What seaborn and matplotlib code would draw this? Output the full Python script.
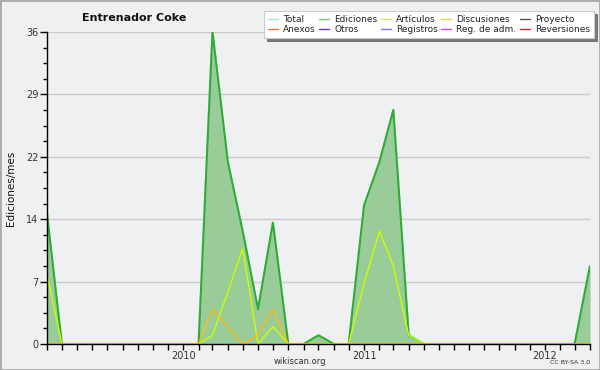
import numpy as np
import pandas as pd
import matplotlib
matplotlib.use("Agg")
import matplotlib.pyplot as plt
import matplotlib.dates as mdates
from matplotlib.lines import Line2D
from matplotlib.patches import Rectangle
import seaborn as sns

# ---- data ----
months = pd.date_range("2009-04-01", periods=37, freq="MS")
ediciones = [15, 0, 0, 0, 0, 0, 0, 0, 0, 0, 0, 36, 21, 13, 4, 14, 0, 0, 1, 0, 0,
             16, 21, 27, 1, 0, 0, 0, 0, 0, 0, 0, 0, 0, 0, 0, 9]
articulos = [8, 0, 0, 0, 0, 0, 0, 0, 0, 0, 0, 1, 6, 11, 0, 2, 0, 0, 0, 0, 0,
             7, 13, 9, 1, 0, 0, 0, 0, 0, 0, 0, 0, 0, 0, 0, 0]
discusiones = [0, 0, 0, 0, 0, 0, 0, 0, 0, 0, 0, 4, 2, 0, 1, 4, 0, 0, 0, 0, 0,
               0, 0, 0, 0, 0, 0, 0, 0, 0, 0, 0, 0, 0, 0, 0, 0]
legend_labels = ["Total", "Ediciones", "Artículos", "Discusiones", "Proyecto",
                 "Anexos", "Otros", "Registros", "Reg. de adm.", "Reversiones"]
legend_colors = ["#a8e2e2", "#77c877", "#ccee55", "#ffcc44", "#555555",
                 "#ee7744", "#7733cc", "#7777ee", "#cc44dd", "#ee2222"]
title = "Entrenador Coke"
ylabel = "Ediciones/mes"

df = pd.DataFrame({"mes": months, "ediciones": ediciones,
                   "articulos": articulos, "discusiones": discusiones})

sns.set_theme(style="white")
plt.rcParams["font.family"] = ["DejaVu Sans"]

bg = "#eff0f1"
fig = plt.figure(figsize=(6, 3.7), dpi=100, facecolor=bg)
ax = fig.add_axes([47 / 600, 1 - 344 / 370, 543 / 600, 312 / 370])
ax.set_facecolor(bg)

# fill + lines
ax.fill_between(df["mes"], 0, df["ediciones"], color="#99cc99", alpha=1.0,
                linewidth=0, zorder=2)
sns.lineplot(data=df, x="mes", y="ediciones", ax=ax, color="#a8e2e2",
             linewidth=1.5, zorder=3)
sns.lineplot(data=df, x="mes", y="ediciones", ax=ax, color="#33aa33",
             linewidth=1.5, zorder=4)
sns.lineplot(data=df, x="mes", y="articulos", ax=ax, color="#ccff00",
             linewidth=1.0, zorder=5)
sns.lineplot(data=df, x="mes", y="discusiones", ax=ax, color="#ffbb11",
             linewidth=1.0, zorder=5)

# axes
ax.set_xlim(months[0], months[-1])
ax.set_ylim(0, 36)
yt = np.linspace(0, 36, 6)
ax.set_yticks(yt)
ax.set_yticklabels([f"{v:.0f}" for v in yt])
ax.set_yticks(np.arange(0, 36.01, 1.8), minor=True)
ax.yaxis.grid(True, which="major", color="#cccccc", linewidth=1, zorder=0)
ax.xaxis.grid(False)
ax.set_axisbelow(True)

ax.xaxis.set_major_locator(mdates.MonthLocator())
ax.xaxis.set_major_formatter(
    matplotlib.ticker.FuncFormatter(
        lambda x, p: mdates.num2date(x).strftime("%Y") if mdates.num2date(x).month == 1 else ""))

ax.tick_params(axis="x", which="major", direction="out", length=4, width=1,
               color="black", labelsize=7, labelcolor="#333333", pad=1, bottom=True)
ax.tick_params(axis="y", which="major", direction="out", length=5, width=1,
               color="black", labelsize=7, labelcolor="#333333", pad=1, left=True)
ax.tick_params(axis="y", which="minor", direction="out", length=3, width=1,
               color="black", left=True)

for s in ["top", "right"]:
    ax.spines[s].set_visible(False)
for s in ["left", "bottom"]:
    ax.spines[s].set_color("black")
    ax.spines[s].set_linewidth(1)
    ax.spines[s].set_zorder(10)

ax.set_xlabel("")
ax.set_ylabel(ylabel, fontsize=7.5, color="#111111")
ax.yaxis.set_label_coords(-0.058, 0.5)

fig.text(134 / 600, 1 - 18 / 370, title, ha="center", va="center",
         fontsize=8, fontweight="bold", color="#111111")
fig.text(300 / 600, 1 - 361 / 370, "wikiscan.org", ha="center", va="center",
         fontsize=6, color="#333333")
fig.text(590 / 600, 1 - 362 / 370, "CC BY-SA 3.0", ha="right", va="center",
         fontsize=4.5, color="#333333")

# legend (column-major order for 2 rows x 5 cols)
order = []
for c in range(5):
    order += [c, c + 5]
handles = [Line2D([0], [0], color=legend_colors[i], lw=1) for i in order]
labels = [legend_labels[i] for i in order]
leg = fig.legend(handles, labels, ncol=5, loc="upper left",
                 bbox_to_anchor=(264 / 600, 1 - 11 / 370),
                 fontsize=6.5, frameon=True, fancybox=False,
                 handlelength=1.1, handletextpad=0.6, columnspacing=0.35,
                 labelspacing=0.1, borderpad=0.45, borderaxespad=0,
                 shadow={"color": "#777777", "alpha": 1})
leg.get_frame().set_facecolor("white")
leg.get_frame().set_edgecolor("#cccccc")
leg.get_frame().set_linewidth(0.8)
for t in leg.get_texts():
    t.set_color("#222222")

# outer border
fig.patches.append(Rectangle((0, 0), 1, 1, transform=fig.transFigure,
                             fill=False, edgecolor="#aaaaaa", linewidth=2))

fig.savefig("out.png", dpi=100, facecolor=bg)
